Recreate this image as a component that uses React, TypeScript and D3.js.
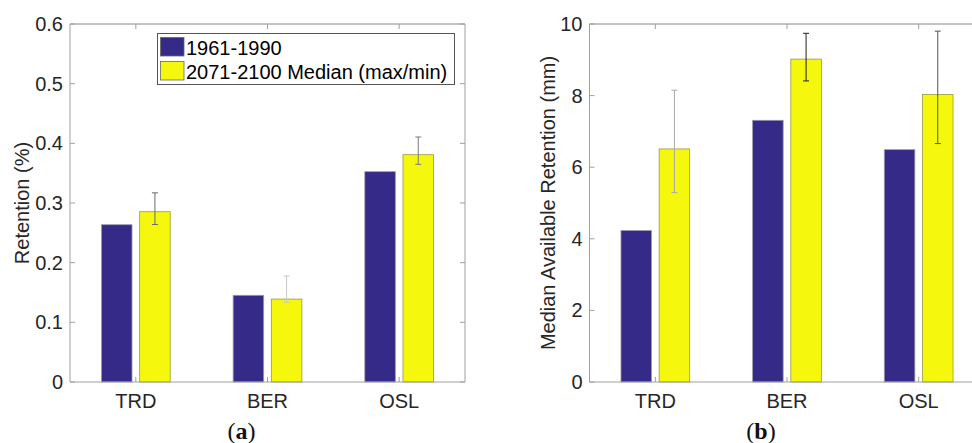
import React from "react";
import * as d3 from "d3";

const categories = ["TRD", "BER", "OSL"];
const seriesNames = ["1961-1990", "2071-2100 Median (max/min)"];

// Panel (a): Retention (%)
const retBaseline = [0.2636, 0.1453, 0.3525];
const retFuture = [0.2854, 0.139, 0.381];
const retMax = [0.317, 0.1777, 0.4106];
const retMin = [0.264, 0.1336, 0.3648];
const retTicks = [0, 0.1, 0.2, 0.3, 0.4, 0.5, 0.6];

// Panel (b): Median Available Retention (mm)
const marBaseline = [4.23, 7.31, 6.49];
const marFuture = [6.51, 9.02, 8.03];
const marMax = [8.15, 9.74, 9.8];
const marMin = [5.29, 8.41, 6.66];
const marTicks = [0, 2, 4, 6, 8, 10];

const BLUE = "#352a87";
const YELLOW = "#f5f80c";
const TEXT = "#262626";
const AXIS = "#a0a0a0";
const FONT = "'Liberation Sans', Arial, sans-serif";

type PanelProps = {
  left: number;
  width: number;
  top: number;
  bottom: number;
  base: number[];
  fut: number[];
  hi: number[];
  lo: number[];
  ticks: number[];
  fmt: (v: number) => string;
  ylabel: string;
  ylabelX: number;
  caption: string;
  errColors: string[];
  legend?: boolean;
};

function Panel(p: PanelProps) {
  const x = d3.scaleLinear().domain([0.5, 3.5]).range([p.left, p.left + p.width]);
  const y = d3
    .scaleLinear()
    .domain([p.ticks[0], p.ticks[p.ticks.length - 1]])
    .range([p.bottom, p.top]);
  const bw = 0.232;
  const off = 0.145;
  const right = p.left + p.width;
  const tl = 5;
  return (
    <g>
      {/* axes box */}
      <line x1={p.left} x2={right} y1={p.top} y2={p.top} stroke="#888" strokeWidth={1} />
      <line x1={right} x2={right} y1={p.top} y2={p.bottom} stroke={AXIS} strokeWidth={1} />
      {/* bars */}
      {categories.map((c, i) => {
        const cx = x(i + 1);
        return (
          <g key={c}>
            <rect
              x={x(i + 1 - off - bw / 2)}
              y={y(p.base[i])}
              width={x(bw) - x(0)}
              height={y(0) - y(p.base[i])}
              fill={BLUE}
              stroke="#9a98b0"
              strokeWidth={0.8}
            />
            <rect
              x={x(i + 1 + off - bw / 2)}
              y={y(p.fut[i])}
              width={x(bw) - x(0)}
              height={y(0) - y(p.fut[i])}
              fill={YELLOW}
              stroke="#9a9a40"
              strokeWidth={0.8}
            />
            <g stroke={p.errColors[i]} strokeWidth={1}>
              <line x1={x(i + 1 + off)} x2={x(i + 1 + off)} y1={y(p.hi[i])} y2={y(p.lo[i])} />
              <line x1={x(i + 1 + off) - 3} x2={x(i + 1 + off) + 3} y1={y(p.hi[i])} y2={y(p.hi[i])} />
              <line x1={x(i + 1 + off) - 3} x2={x(i + 1 + off) + 3} y1={y(p.lo[i])} y2={y(p.lo[i])} />
            </g>
            {/* x ticks top & bottom */}
            <line x1={cx} x2={cx} y1={p.bottom} y2={p.bottom - tl} stroke={AXIS} />
            <line x1={cx} x2={cx} y1={p.top} y2={p.top + tl} stroke={AXIS} />
            <text
              x={cx}
              y={p.bottom + 26}
              textAnchor="middle"
              fontFamily={FONT}
              fontSize={20}
              fill={TEXT}
            >
              {c}
            </text>
          </g>
        );
      })}
      <line x1={p.left} x2={right} y1={p.bottom} y2={p.bottom} stroke={AXIS} strokeWidth={1} />
      <line x1={p.left} x2={p.left} y1={p.top} y2={p.bottom} stroke={AXIS} strokeWidth={1} />
      {/* y ticks */}
      {p.ticks.map((t) => (
        <g key={t}>
          <line x1={p.left} x2={p.left + tl} y1={y(t)} y2={y(t)} stroke={AXIS} />
          <line x1={right} x2={right - tl} y1={y(t)} y2={y(t)} stroke={AXIS} />
          <text
            x={p.left - 7}
            y={y(t)}
            dy="0.35em"
            textAnchor="end"
            fontFamily={FONT}
            fontSize={20}
            fill={TEXT}
          >
            {p.fmt(t)}
          </text>
        </g>
      ))}
      <text
        transform={`translate(${p.ylabelX},${(p.top + p.bottom) / 2}) rotate(-90)`}
        textAnchor="middle"
        dy="0.35em"
        fontFamily={FONT}
        fontSize={20}
        fill={TEXT}
      >
        {p.ylabel}
      </text>
      <text
        x={x(2) - 26}
        y={439}
        textAnchor="middle"
        fontFamily="'Liberation Serif', 'DejaVu Serif', serif"
        fontSize={24}
        fill="#111"
      >
        (<tspan fontWeight="bold">{p.caption}</tspan>)
      </text>
      {p.legend && (
        <g>
          <rect x={157.5} y={33.5} width={297} height={51} fill="#fff" stroke="#555" strokeWidth={1} />
          <rect x={160.5} y={37.5} width={23.5} height={18.5} fill={BLUE} stroke="#666" strokeWidth={0.8} />
          <rect x={160.5} y={61.5} width={23.5} height={18.5} fill={YELLOW} stroke="#666" strokeWidth={0.8} />
          <text x={186} y={54.5} fontFamily={FONT} fontSize={20} fill="#000">
            {seriesNames[0]}
          </text>
          <text x={186} y={78.5} fontFamily={FONT} fontSize={20} fill="#000">
            {seriesNames[1]}
          </text>
        </g>
      )}
    </g>
  );
}

export default function App() {
  return (
    <svg
      width={972}
      height={443}
      style={{ position: "absolute", left: 0, top: 0, background: "#fff" }}
    >
      <rect width={972} height={443} fill="#fff" />
      <Panel
        left={70}
        width={395}
        top={24}
        bottom={382}
        base={retBaseline}
        fut={retFuture}
        hi={retMax}
        lo={retMin}
        ticks={retTicks}
        fmt={(v) => (v === 0 ? "0" : d3.format(".1f")(v))}
        ylabel="Retention (%)"
        ylabelX={22}
        caption="a"
        errColors={["#6a6a6a", "#c8c8c8", "#7a7a7a"]}
        legend
      />
      <Panel
        left={589.5}
        width={395}
        top={24}
        bottom={382}
        base={marBaseline}
        fut={marFuture}
        hi={marMax}
        lo={marMin}
        ticks={marTicks}
        fmt={(v) => String(v)}
        ylabel="Median Available Retention (mm)"
        ylabelX={548}
        caption="b"
        errColors={["#a8a8a8", "#1e1e1e", "#555555"]}
      />
    </svg>
  );
}
